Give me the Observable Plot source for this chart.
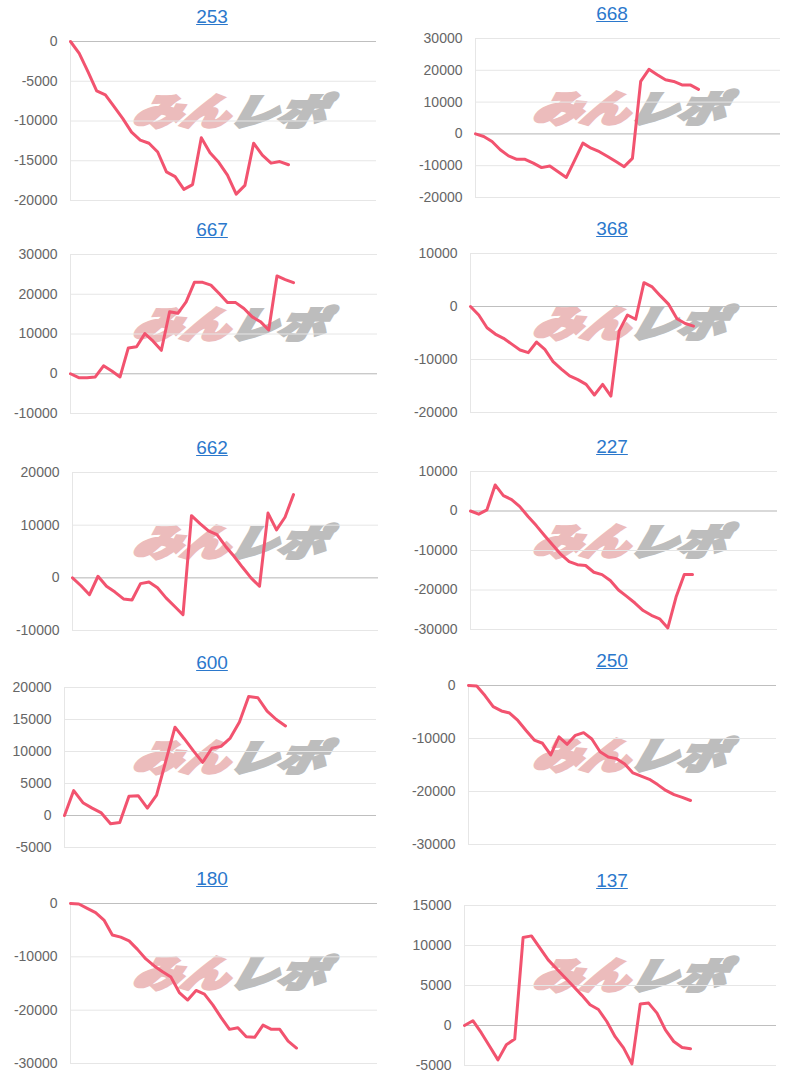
<!DOCTYPE html>
<html>
<head>
<meta charset="utf-8">
<script src="https://cdn.jsdelivr.net/npm/d3@7"></script>
<script src="https://cdn.jsdelivr.net/npm/@observablehq/plot@0.6"></script>
<style>
  body { margin: 0; background: #fff; font-family: "Liberation Sans", Arial, sans-serif; }
  #root { position: relative; width: 800px; height: 1080px; overflow: hidden; }
  .title { position: absolute; width: 200px; margin-left: -100px; text-align: center;
           font-size: 19px; line-height: 22px; color: #2b78cc; text-decoration: underline; }
  .wm { position: absolute; white-space: nowrap; font-family: "Noto Sans CJK JP", sans-serif;
        font-weight: 900; font-style: italic; font-size: 40px; line-height: 40px;
        transform: translate(-50%, -50%) skewX(-14deg) scale(1.2, 0.92); }
  .wm .a { color: #ecbcbc; -webkit-text-stroke: 3.5px #ecbcbc; }
  .wm .b { color: #bdbdbd; -webkit-text-stroke: 3.5px #bdbdbd; }
  .panel { position: absolute; }
</style>
</head>
<body>
<div id="root"></div>
<script>
// ---- data ----
const names = ["253", "668", "667", "368", "662", "227", "600", "250", "180", "137"];

const s253 = [0, -1500, -3800, -6200, -6700, -8200, -9700, -11400, -12400, -12800, -13900, -16400, -17000, -18600, -18000, -12100, -14000, -15200, -16800, -19200, -18100, -12800, -14300, -15300, -15100, -15500];
const s668 = [0, -800, -2400, -5000, -6900, -8000, -8000, -9200, -10600, -10100, -11900, -13700, -8300, -2900, -4500, -5600, -7100, -8700, -10300, -7700, 16500, 20300, 18600, 17000, 16500, 15400, 15400, 14000];
const s667 = [0, -1000, -1000, -800, 2000, 700, -800, 6500, 6800, 10100, 8200, 5900, 15600, 15200, 18100, 23000, 23000, 22300, 20200, 17900, 17900, 16400, 14300, 13100, 11000, 24600, 23700, 22900];
const s368 = [0, -1600, -4000, -5200, -6000, -7100, -8200, -8700, -6700, -8100, -10400, -11800, -13100, -13800, -14700, -16700, -14700, -16900, -4600, -1600, -2400, 4500, 3700, 2000, 400, -2300, -3200, -3700];
const s662 = [0, -1500, -3200, 300, -1600, -2700, -4000, -4200, -1100, -800, -1900, -3800, -5400, -7000, 11800, 10300, 8900, 8200, 6000, 4100, 2000, 0, -1600, 12300, 9100, 11500, 15800];
const s227 = [0, -800, 300, 6600, 3900, 2900, 1100, -1400, -3700, -6200, -8600, -11000, -12800, -13600, -13800, -15500, -16100, -17600, -20000, -21600, -23300, -25200, -26400, -27300, -29600, -21800, -16100, -16100];
const s600 = [0, 3900, 2000, 1150, 400, -1300, -1100, 3000, 3100, 1150, 3200, 8500, 13800, 12000, 10100, 8300, 10500, 10800, 12100, 14600, 18600, 18400, 16300, 15000, 14000];
const s250 = [0, -100, -1900, -4000, -4800, -5200, -6600, -8500, -10300, -10900, -13100, -9700, -11100, -9400, -8900, -10100, -12500, -13500, -13800, -14800, -16500, -17100, -17700, -18700, -19800, -20600, -21100, -21700];
const s180 = [0, -100, -900, -1700, -3100, -5900, -6300, -7000, -8600, -10400, -11700, -12800, -13800, -16700, -18100, -16300, -17000, -19000, -21400, -23600, -23300, -25000, -25100, -22800, -23600, -23600, -25800, -27100];
const s137 = [0, 600, -900, -2600, -4300, -2400, -1700, 11000, 11200, 9700, 8200, 7100, 6000, 4900, 3800, 2600, 2000, 500, -1400, -2800, -4800, 2700, 2800, 1550, -550, -2000, -2750, -2900];

const series = [s253, s668, s667, s368, s662, s227, s600, s250, s180, s137];

// y-axis tick ranges (min, max, step)
const yMin  = [-20000, -20000, -10000, -20000, -10000, -30000, -5000, -30000, -30000, -5000];
const yMax  = [0, 30000, 30000, 10000, 20000, 10000, 20000, 0, 0, 15000];
const yStep = [5000, 10000, 10000, 10000, 10000, 10000, 5000, 10000, 10000, 5000];

// ---- layout (page pixels) ----
const plotLeft   = [70, 475, 70, 470, 72, 470, 64, 468, 70, 464];
const plotRight  = [376, 780, 377, 777, 378, 777, 376, 776, 377, 776];
const plotTop    = [41, 38, 254, 253, 472, 471, 687, 685, 903, 905];
const plotBottom = [200, 197, 413, 412, 630, 629, 847, 844, 1063, 1065];
const lineEnd    = [288, 698, 293, 693, 293, 692, 285, 690, 296, 690];

const root = document.getElementById("root");
const PAD = 10;

names.forEach((name, k) => {
  const col = k % 2;
  const cellX = col * 400;
  const vals = series[k];
  const n = vals.length;
  const data = vals.map((v, i) => ({x: i, y: v}));
  const ticks = d3.range(yMin[k], yMax[k] + 1, yStep[k]);

  const L = plotLeft[k], R = plotRight[k], T = plotTop[k], B = plotBottom[k];
  const xMax = (n - 1) * (R - L) / (lineEnd[k] - L);

  // watermark (behind chart)
  const wm = document.createElement("div");
  wm.className = "wm";
  wm.innerHTML = '<span class="a">みん</span><span class="b">レポ</span>';
  wm.style.left = (cellX + 231) + "px";
  wm.style.top = (T + 68) + "px";
  root.appendChild(wm);

  // title
  const t = document.createElement("div");
  t.className = "title";
  t.textContent = name;
  t.style.left = (cellX + 212) + "px";
  t.style.top = (T - 35) + "px";
  root.appendChild(t);

  const chart = Plot.plot({
    width: 400,
    height: (B - T) + 2 * PAD,
    marginLeft: L - cellX,
    marginRight: cellX + 400 - R,
    marginTop: PAD,
    marginBottom: PAD,
    style: {background: "transparent", fontSize: "14px", fontFamily: "'Liberation Sans', Arial, sans-serif", color: "#666"},
    x: {domain: [0, xMax], axis: null},
    y: {domain: [yMin[k], yMax[k]], axis: null},
    marks: [
      Plot.gridY(ticks, {stroke: "#e6e6e6", strokeOpacity: 1}),
      Plot.ruleX([0], {stroke: "#e6e6e6"}),
      Plot.ruleY([0], {stroke: "#bfbfbf"}),
      Plot.axisY(ticks, {tickSize: 0, tickPadding: 13, tickFormat: d => String(d), label: null, fill: "#666"}),
      Plot.line(data, {x: "x", y: "y", stroke: "#f2536f", strokeWidth: 3, strokeLinejoin: "round", strokeLinecap: "round"})
    ]
  });
  chart.classList.add("panel");
  chart.style.left = cellX + "px";
  chart.style.top = (T - PAD) + "px";
  root.appendChild(chart);
});
</script>
</body>
</html>
